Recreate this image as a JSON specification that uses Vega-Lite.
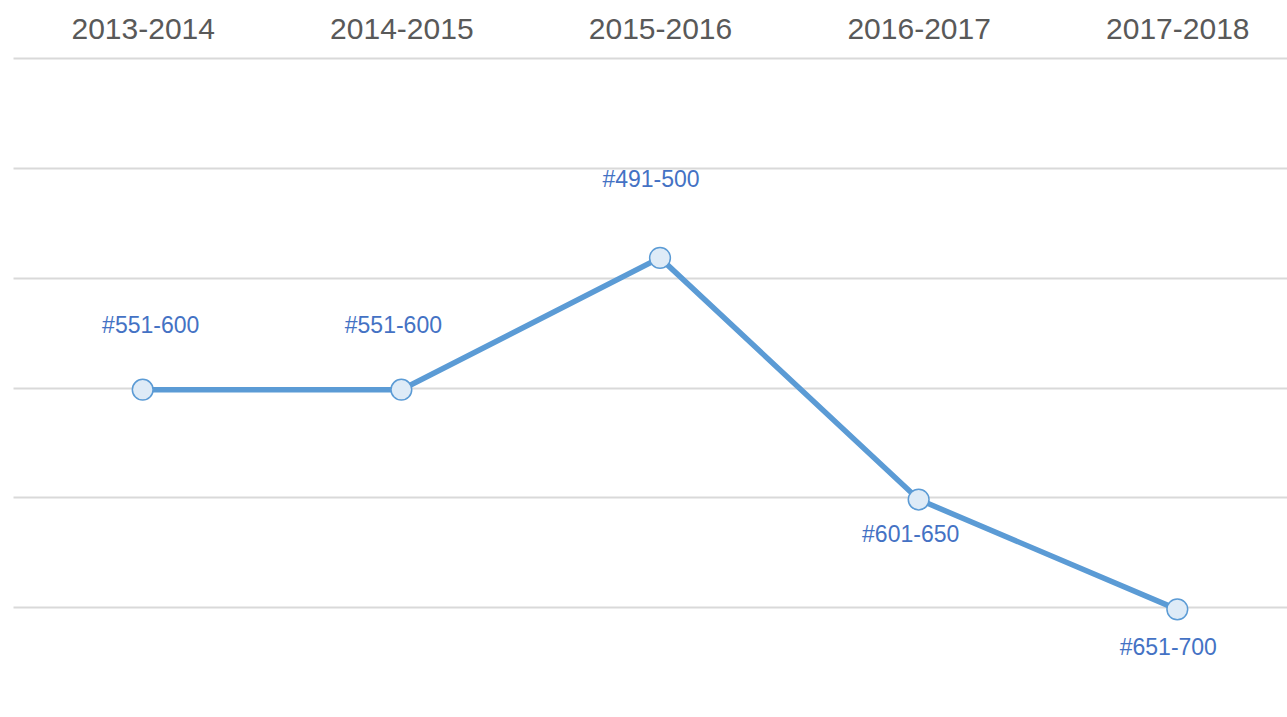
{
  "$schema": "https://vega.github.io/schema/vega-lite/v6.json",
  "width": 1274,
  "height": 659,
  "autosize": {"type": "none"},
  "padding": {"left": 13, "top": 58, "right": 0, "bottom": 0},
  "background": "white",
  "config": {"view": {"stroke": null}, "font": "Liberation Sans"},
  "data": {
    "values": [
      {"year": "2013-2014", "rank": 551, "label": "#551-600"},
      {"year": "2014-2015", "rank": 551, "label": "#551-600"},
      {"year": "2015-2016", "rank": 491, "label": "#491-500"},
      {"year": "2016-2017", "rank": 601, "label": "#601-650"},
      {"year": "2017-2018", "rank": 651, "label": "#651-700"}
    ]
  },
  "encoding": {
    "x": {
      "field": "year", "type": "ordinal", "title": null,
      "scale": {"type": "point", "padding": 0.4628, "align": 0.5418},
      "axis": {
        "orient": "top", "domain": false, "ticks": false, "grid": false,
        "labelFontSize": 30, "labelColor": "#595959", "labelPadding": 14,
        "labelFont": "Liberation Sans", "labelAngle": 0
      }
    },
    "y": {
      "field": "rank", "type": "quantitative", "title": null,
      "scale": {"domain": [400, 700], "reverse": true, "nice": false, "zero": false},
      "axis": {
        "values": [400, 450, 500, 550, 600, 650],
        "labels": false, "ticks": false, "domain": false,
        "grid": true, "gridColor": "#d9d9d9", "gridWidth": 2
      }
    }
  },
  "layer": [
    {"mark": {"type": "line", "color": "#5B9BD5", "strokeWidth": 5.5}},
    {"mark": {"type": "point", "filled": false, "shape": "circle", "size": 430, "fill": "#DEEBF7", "fillOpacity": 1, "stroke": "#5B9BD5", "strokeWidth": 1.5, "opacity": 1}},
    {
      "transform": [{"filter": "datum.year == '2013-2014'"}],
      "mark": {"type": "text", "fontSize": 23, "color": "#4472C4", "dx": 8, "dy": -64},
      "encoding": {"text": {"field": "label"}}
    },
    {
      "transform": [{"filter": "datum.year == '2014-2015'"}],
      "mark": {"type": "text", "fontSize": 23, "color": "#4472C4", "dx": -8, "dy": -64},
      "encoding": {"text": {"field": "label"}}
    },
    {
      "transform": [{"filter": "datum.year == '2015-2016'"}],
      "mark": {"type": "text", "fontSize": 23, "color": "#4472C4", "dx": -9, "dy": -78},
      "encoding": {"text": {"field": "label"}}
    },
    {
      "transform": [{"filter": "datum.year == '2016-2017'"}],
      "mark": {"type": "text", "fontSize": 23, "color": "#4472C4", "dx": -8, "dy": 35},
      "encoding": {"text": {"field": "label"}}
    },
    {
      "transform": [{"filter": "datum.year == '2017-2018'"}],
      "mark": {"type": "text", "fontSize": 23, "color": "#4472C4", "dx": -9, "dy": 39},
      "encoding": {"text": {"field": "label"}}
    }
  ]
}
